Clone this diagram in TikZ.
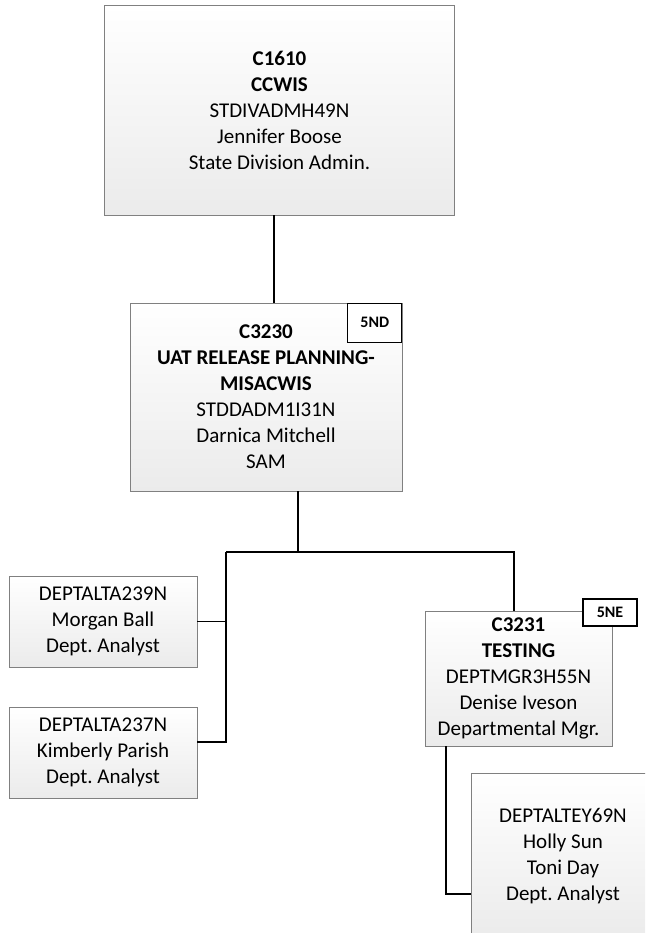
\documentclass[tikz,border=0pt]{standalone}
\usepackage{fontspec}
\setmainfont{Carlito}
\usetikzlibrary{positioning, calc}
\frenchspacing
\definecolor{boxline}{RGB}{128,128,128}
\definecolor{boxfade}{RGB}{235,235,235}

\tikzset{
  unitbox/.style={rectangle, draw=boxline, line width=0.9pt,
                  top color=white, bottom color=boxfade,
                  align=center, inner sep=0pt,
                  font=\fontsize{21}{26}\selectfont},
  badge/.style={rectangle, draw=black, line width=1.3pt, fill=white,
                inner sep=0pt, minimum width=54,
                font=\fontsize{16}{18}\selectfont\bfseries},
  link/.style={draw=black, line width=1.6pt},
}

\begin{document}
\begin{tikzpicture}[x=1pt, y=-1pt]
        \path[use as bounding box, clip] (0,0) rectangle (645,933);

        % division level
        \node[unitbox, minimum width=350, minimum height=210] (c1610) at (279.5,110)
          {\textbf{C1610}\\\textbf{CCWIS}\\STDIVADMH49N\\Jennifer Boose\\State Division Admin.};

        % section level
        \node[unitbox, minimum width=272, minimum height=188] (c3230) at (266,397)
          {\textbf{C3230}\\\textbf{UAT RELEASE PLANNING-}\\\textbf{MISACWIS}\\STDDADM1I31N\\Darnica Mitchell\\SAM};
        \node[badge, minimum height=39, anchor=north east] (nd) at (c3230.north east) {5ND};

        % analysts
        \node[unitbox, minimum width=188, minimum height=91] (alta239) at (103,621.5)
          {DEPTALTA239N\\Morgan Ball\\Dept. Analyst};
        \node[unitbox, minimum width=188, minimum height=91] (alta237) at (103,752.5)
          {DEPTALTA237N\\Kimberly Parish\\Dept. Analyst};

        % unit level
        \node[unitbox, minimum width=187, minimum height=135] (c3231) at (518.5,678.5)
          {\textbf{C3231}\\\textbf{TESTING}\\DEPTMGR3H55N\\Denise Iveson\\Departmental Mgr.};
        \node[badge, minimum height=27] (ne) at (610,612.5) {5NE};

        \node[unitbox, minimum width=184, minimum height=166] (altey69) at (563,856)
          {DEPTALTEY69N\\Holly Sun\\Toni Day\\Dept. Analyst};

        % connectors
        \coordinate (topdrop) at (274,0);
        \coordinate (split) at (298,552);
        \coordinate (leftbus) at (226,552);
        \coordinate (rightbus) at (514,552);
        \coordinate (kimtap) at (226,742);
        \coordinate (hollytap) at (446,894);

        \draw[link] (c1610.south -| topdrop) -- (c3230.north -| topdrop);
        \draw[link] (c3230.south -| split) -- (split);
        \draw[link] (leftbus) -- (rightbus) -- (c3231.north -| rightbus);
        \draw[link] (alta239.east) -- (alta239.east -| leftbus);
        \draw[link] (leftbus) -- (kimtap) -- (kimtap -| alta237.east);
        \draw[link] (c3231.south -| hollytap) -- (hollytap) -- (hollytap -| altey69.west);
      \end{tikzpicture}
\end{document}
